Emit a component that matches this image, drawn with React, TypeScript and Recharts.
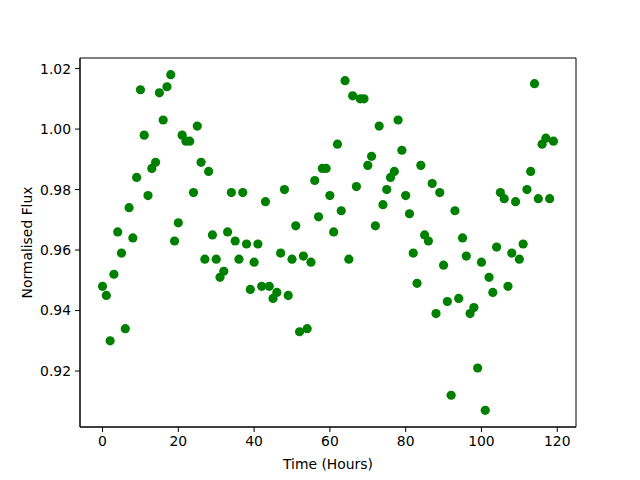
import React from 'react';
import { ScatterChart, Scatter, XAxis, YAxis, ReferenceArea, Label } from 'recharts';

// hours since start of observation
const hours: number[] = Array.from({ length: 120 }, (_, i) => i);

// normalised flux, one value per hour
const flux: number[] = [
  0.948, 0.945, 0.930, 0.952, 0.966, 0.959, 0.934, 0.974, 0.964, 0.984,
  1.013, 0.998, 0.978, 0.987, 0.989, 1.012, 1.003, 1.014, 1.018, 0.963,
  0.969, 0.998, 0.996, 0.996, 0.979, 1.001, 0.989, 0.957, 0.986, 0.965,
  0.957, 0.951, 0.953, 0.966, 0.979, 0.963, 0.957, 0.979, 0.962, 0.947,
  0.956, 0.962, 0.948, 0.976, 0.948, 0.944, 0.946, 0.959, 0.980, 0.945,
  0.957, 0.968, 0.933, 0.958, 0.934, 0.956, 0.983, 0.971, 0.987, 0.987,
  0.978, 0.966, 0.995, 0.973, 1.016, 0.957, 1.011, 0.981, 1.010, 1.010,
  0.988, 0.991, 0.968, 1.001, 0.975, 0.980, 0.984, 0.986, 1.003, 0.993,
  0.978, 0.972, 0.959, 0.949, 0.988, 0.965, 0.963, 0.982, 0.939, 0.979,
  0.955, 0.943, 0.912, 0.973, 0.944, 0.964, 0.958, 0.939, 0.941, 0.921,
  0.956, 0.907, 0.951, 0.946, 0.961, 0.979, 0.977, 0.948, 0.959, 0.976,
  0.957, 0.962, 0.980, 0.986, 1.015, 0.977, 0.995, 0.997, 0.977, 0.996,
];

const xTicks = [0, 20, 40, 60, 80, 100, 120];
const yTicks = [0.92, 0.94, 0.96, 0.98, 1.0, 1.02];

const points = hours.map((h, i) => ({ hour: h, flux: flux[i] }));

const X_DOMAIN: [number, number] = [-5.95, 124.95];
const Y_DOMAIN: [number, number] = [0.9015, 1.0235];

const font = 'DejaVu Sans, sans-serif';
const tickStyle = { fontSize: 13.9, fill: '#000', fontFamily: font };

const Dot = (props: any) => (
  <circle cx={props.cx} cy={props.cy} r={4.6} fill="#008000" />
);

export default function App() {
  return (
    <div style={{ position: 'absolute', left: 0, top: 0, background: '#fff' }}>
      <ScatterChart
        width={640}
        height={480}
        margin={{ top: 58, right: 64, bottom: 0, left: 0 }}
      >
        <XAxis
          type="number"
          dataKey="hour"
          domain={X_DOMAIN}
          ticks={xTicks}
          height={53}
          tick={tickStyle}
          tickSize={5}
          tickMargin={4}
          stroke="#000"
          axisLine={{ stroke: '#000' }}
          tickLine={{ stroke: '#000' }}
          allowDataOverflow
        >
          <Label
            value="Time (Hours)"
            position="insideBottom"
            offset={11}
            style={{ fontSize: 13.9, fill: '#000', fontFamily: font }}
          />
        </XAxis>
        <YAxis
          type="number"
          dataKey="flux"
          domain={Y_DOMAIN}
          ticks={yTicks}
          width={80}
          tick={tickStyle}
          tickSize={5}
          tickMargin={4}
          tickFormatter={(v: number) => v.toFixed(2)}
          stroke="#000"
          axisLine={{ stroke: '#000' }}
          tickLine={{ stroke: '#000' }}
          allowDataOverflow
        >
          <Label
            value="Normalised Flux"
            angle={-90}
            position="insideLeft"
            offset={27}
            style={{ fontSize: 13.9, fill: '#000', fontFamily: font, textAnchor: 'middle' }}
          />
        </YAxis>
        <ReferenceArea
          x1={X_DOMAIN[0]}
          x2={X_DOMAIN[1]}
          y1={Y_DOMAIN[0]}
          y2={Y_DOMAIN[1]}
          fill="none"
          stroke="#000"
          strokeWidth={1}
          ifOverflow="visible"
        />
        <Scatter data={points} shape={Dot} isAnimationActive={false} />
      </ScatterChart>
    </div>
  );
}
